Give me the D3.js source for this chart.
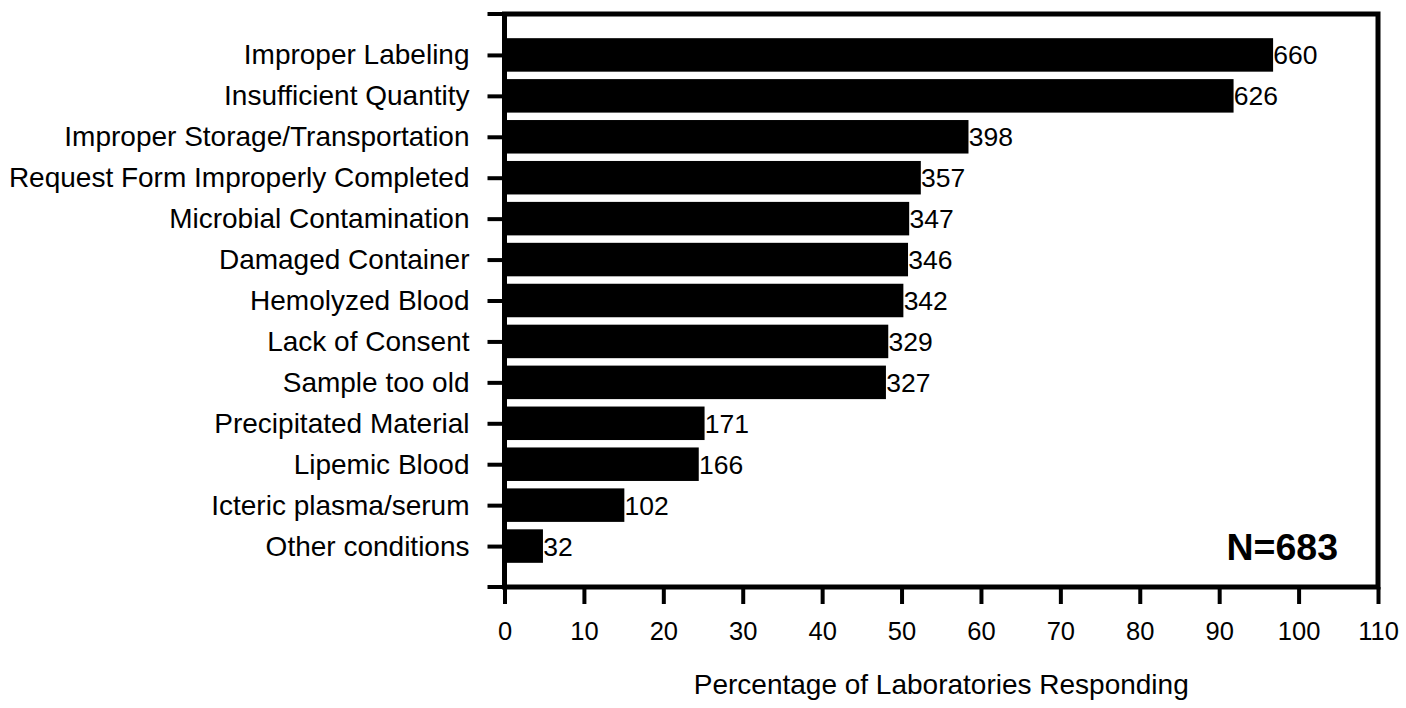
<!DOCTYPE html>
<html>
<head>
<meta charset="utf-8">
<script src="https://cdn.jsdelivr.net/npm/d3@7"></script>
<style>
html,body{margin:0;padding:0;background:#fff;}
svg{display:block;}
text{font-family:"Liberation Sans", Arial, Helvetica, sans-serif;fill:#000;}
</style>
</head>
<body>
<svg id="chart" width="1406" height="708"></svg>
<script>
const categories = [
  "Improper Labeling",
  "Insufficient Quantity",
  "Improper Storage/Transportation",
  "Request Form Improperly Completed",
  "Microbial Contamination",
  "Damaged Container",
  "Hemolyzed Blood",
  "Lack of Consent",
  "Sample too old",
  "Precipitated Material",
  "Lipemic Blood",
  "Icteric plasma/serum",
  "Other conditions"
];
const counts = [660, 626, 398, 357, 347, 346, 342, 329, 327, 171, 166, 102, 32];
const totalN = 683;
const xTicks = [0, 10, 20, 30, 40, 50, 60, 70, 80, 90, 100, 110];
const xTitle = "Percentage of Laboratories Responding";
const nLabel = "N=683";

const svg = d3.select("#chart");
const plotLeft = 504.5, plotRight = 1378, plotTop = 14, plotBottom = 587;

const x = d3.scaleLinear().domain([0, 110]).range([plotLeft, plotRight]);
const y = d3.scalePoint().domain(categories).range([plotTop, plotBottom]).padding(1);
const barH = 31;

// bars (thin black outline, as in the original artwork)
svg.append("g").selectAll("rect").data(categories).join("rect")
  .attr("x", x(0))
  .attr("y", d => y(d) - barH / 2)
  .attr("width", (d, i) => x(counts[i] / totalN * 100) - x(0))
  .attr("height", barH)
  .attr("fill", "#000")
  .attr("stroke", "#000")
  .attr("stroke-width", 2.5);

// value labels
svg.append("g").selectAll("text").data(categories).join("text")
  .attr("x", (d, i) => x(counts[i] / totalN * 100) + 1.5)
  .attr("y", d => y(d))
  .attr("dy", "0.36em")
  .attr("font-size", 26.5)
  .text((d, i) => counts[i]);

// frame
svg.append("rect")
  .attr("x", plotLeft).attr("y", plotTop)
  .attr("width", plotRight - plotLeft).attr("height", plotBottom - plotTop)
  .attr("fill", "none").attr("stroke", "#000").attr("stroke-width", 5);

// y axis
const yAxis = svg.append("g").attr("transform", `translate(${plotLeft},0)`)
  .call(d3.axisLeft(y).tickSize(17).tickPadding(18));
yAxis.select(".domain").remove();
yAxis.selectAll(".tick line").attr("stroke", "#000").attr("stroke-width", 4);
yAxis.selectAll(".tick text").attr("font-size", 28).attr("font-family", "Liberation Sans, Arial, sans-serif").attr("fill", "#000");
yAxis.selectAll(".endtick").data([plotTop, plotBottom]).join("line")
  .attr("class", "endtick")
  .attr("x1", -17).attr("x2", 0).attr("y1", d => d).attr("y2", d => d)
  .attr("stroke", "#000").attr("stroke-width", 4);

// x axis
const xAxis = svg.append("g").attr("transform", `translate(0,${plotBottom})`)
  .call(d3.axisBottom(x).tickValues(xTicks).tickSize(17).tickPadding(18));
xAxis.select(".domain").remove();
xAxis.selectAll(".tick line").attr("stroke", "#000").attr("stroke-width", 4);
xAxis.selectAll(".tick text").attr("font-size", 25.5).attr("font-family", "Liberation Sans, Arial, sans-serif").attr("fill", "#000");

// x title
svg.append("text")
  .attr("x", (plotLeft + plotRight) / 2 + 0)
  .attr("y", 694)
  .attr("text-anchor", "middle")
  .attr("font-size", 28)
  .text(xTitle);

// N label
svg.append("text")
  .attr("x", 1338)
  .attr("y", 560)
  .attr("text-anchor", "end")
  .attr("font-size", 37.5)
  .attr("font-weight", "bold")
  .text(nLabel);
</script>
</body>
</html>
